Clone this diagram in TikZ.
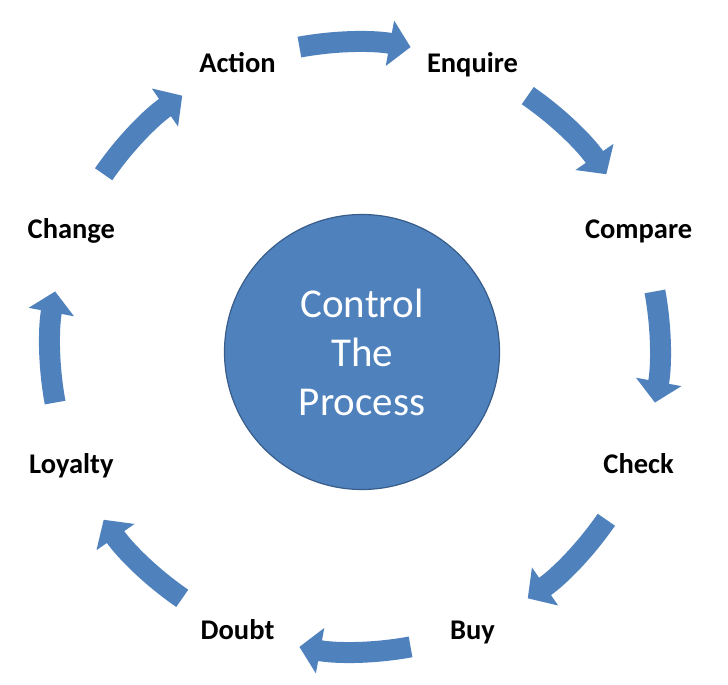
\documentclass[tikz,border=0pt]{standalone}
\usepackage{fontspec}
\setmainfont{Carlito}
\usetikzlibrary{arrows.meta}
\definecolor{procblue}{RGB}{79,129,189}
\definecolor{procedge}{RGB}{56,93,138}
\newcommand{\ring}[0]{305}
\newcommand{\turn}[1]{\draw[flow] ({#1+10.5}:\ring) arc ({#1+10.5}:{#1-10.5}:\ring)}

\begin{document}
\begin{tikzpicture}[x=1pt, y=1pt,
	flow/.style = {procblue, line width=21pt,
		-{Triangle[width=45pt, length=21pt]}},
	stage/.style = {font=\fontsize{28.5}{30}\selectfont\bfseries,
		inner sep=0pt, text height=18pt, text depth=0pt},
	hub/.style = {circle, fill=procblue, draw=procedge, line width=1.2pt,
		minimum size=275pt, text=white, align=center,
		font=\fontsize{41}{49}\selectfont}]
\useasboundingbox (-355,-338) rectangle (373,347);
%Centre
	\node[hub] (hub) at (7,-5) {Control\\The\\Process};
%Stages
	\node[stage] (action) at (112.5:307) {Action};
	\node[stage] (enquire) at (67.5:307) {Enquire};
	\node[stage] (compare) at (22.5:307) {Compare};
	\node[stage] (check) at (-22.5:307) {Check};
	\node[stage] (buy) at (-67.5:307) {Buy};
	\node[stage] (doubt) at (-112.5:307) {Doubt};
	\node[stage] (loyalty) at (-157.5:307) {Loyalty};
	\node[stage] (change) at (157.5:307) {Change};
%Arrows between stages
	\foreach \a in {90,45,...,-225}
		\turn{\a};
\end{tikzpicture}
\end{document}
